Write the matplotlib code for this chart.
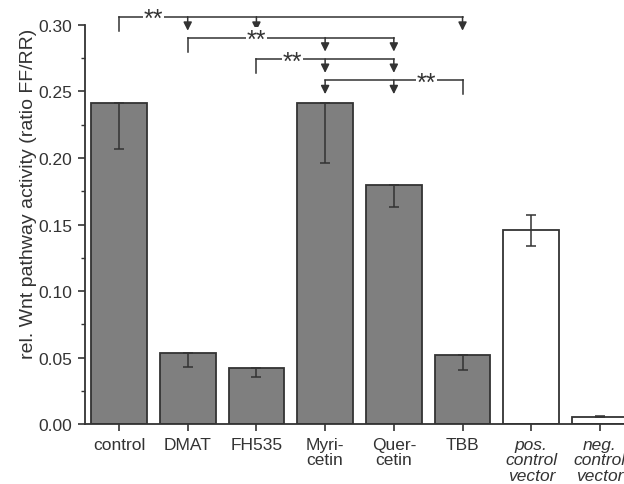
import numpy as np
import matplotlib.pyplot as plt

plt.rcParams['font.family'] = ['Liberation Sans', 'DejaVu Sans']

## DATA
labels = ['control', 'DMAT', 'FH535', 'Myri-\ncetin', 'Quer-\ncetin', 'TBB',
          'pos.\ncontrol\nvector', 'neg.\ncontrol\nvector']
values = [0.241, 0.0532, 0.0420, 0.2415, 0.180, 0.0522, 0.1455, 0.0055]
err_low = [0.034, 0.0105, 0.0063, 0.045, 0.017, 0.0115, 0.0115, 0.0006]
err_high = [0.0, 0.0, 0.0, 0.0, 0.0, 0.0, 0.0115, 0.0006]
colors = ['#7f7f7f'] * 6 + ['white'] * 2

# significance brackets: start index, arrow indices, line level, star position
brackets = [
    (0, [1, 2, 5], 0.3062, 0.50),
    (1, [3, 4], 0.2905, 2.0),
    (2, [3, 4], 0.2745, 2.52),
    (5, [3, 4], 0.2585, 4.48),
]

ink = '#333333'
fig = plt.figure(figsize=(6.24, 4.85), dpi=100)
ax = fig.add_axes([0.1362, 0.1237, 0.8638, 0.8227])
x = np.arange(len(labels))
ax.bar(x, values, width=0.81, color=colors, edgecolor=ink, linewidth=1.3, zorder=2)
ax.errorbar(x, values, yerr=[err_low, err_high], fmt='none', ecolor=ink,
            elinewidth=1.1, capsize=3.5, capthick=1.1, zorder=3)

ax.set_xlim(-0.495, 7.35)
ax.set_ylim(0, 0.30)
ax.set_yticks(np.arange(0, 0.301, 0.05))
ax.set_yticks(np.arange(0.025, 0.3, 0.05), minor=True)
ax.yaxis.set_major_formatter(plt.FormatStrFormatter('%.2f'))
ax.set_xticks(x)
ax.set_xticklabels(labels, fontsize=12.5, color=ink, linespacing=1.05)
for t in ax.get_xticklabels()[6:]:
    t.set_style('italic')
for t in ax.get_yticklabels():
    t.set_fontsize(12.5)
    t.set_color(ink)
ax.tick_params(axis='both', which='major', direction='out', length=5, width=1.2,
               color=ink, pad=4)
ax.tick_params(axis='y', which='minor', direction='out', length=3, width=1.0, color=ink)
ax.spines['top'].set_visible(False)
ax.spines['right'].set_visible(False)
ax.spines['left'].set_color(ink)
ax.spines['bottom'].set_color(ink)
ax.spines['left'].set_linewidth(1.3)
ax.spines['bottom'].set_linewidth(1.3)
ax.set_ylabel('rel. Wnt pathway activity (ratio FF/RR)', fontsize=14, color=ink)
ax.yaxis.set_label_coords(-0.089, 0.58)

# brackets
drop = 0.0105
for start, arrows, level, star in brackets:
    end = max(arrows + [start])
    left = min(arrows + [start])
    ax.plot([left, end], [level, level], color=ink, lw=1.1, clip_on=False, zorder=4)
    ax.plot([start, start], [level, level - drop], color=ink, lw=1.1, clip_on=False, zorder=4)
    for a in arrows:
        ax.annotate('', xy=(a, level - drop), xytext=(a, level),
                    arrowprops=dict(arrowstyle='-|>,head_length=0.5,head_width=0.25',
                                    color=ink, lw=1.1, shrinkA=0, shrinkB=0),
                    annotation_clip=False, zorder=4)
    ax.text(star, level - 0.0072, '**', ha='center', va='baseline', fontsize=18,
            color=ink, zorder=5, clip_on=False,
            bbox=dict(facecolor='white', edgecolor='none', pad=0.5))

fig.savefig('out.png', dpi=100)
